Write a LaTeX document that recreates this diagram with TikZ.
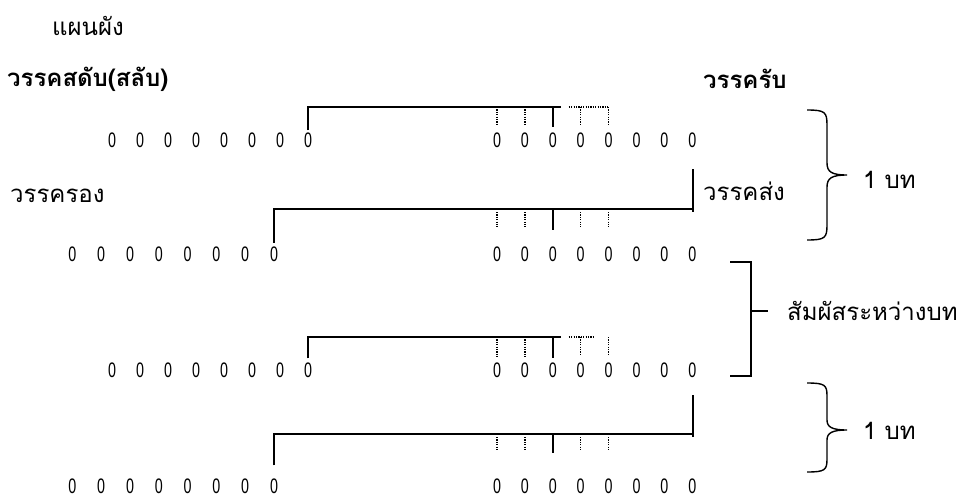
\documentclass[tikz,border=0pt]{standalone}
\usepackage{fontspec}
\newfontfamily\thai[Script=Thai]{Loma}
\newfontfamily\digitfont{Liberation Sans}
\usetikzlibrary{calc}
\newcommand\zz{\scalebox{0.68}[1]{0}}
\tikzset{
  zero/.style={inner sep=0pt, font=\digitfont\fontsize{21}{21}\selectfont},
  lbl/.style={inner sep=0pt, anchor=west, font=\thai\fontsize{24}{24}\selectfont},
  hdr/.style={inner sep=0pt, anchor=west, font=\thai\bfseries\fontsize{24}{24}\selectfont},
  link/.style={line width=1.4pt},
  dotlink/.style={line width=1.2pt, dash pattern=on 1.2pt off 1.2pt},
}
\begin{document}
\begin{tikzpicture}[x=1pt,y=1pt]
\useasboundingbox[fill=white] (0,0) rectangle (963,-501);
% texts
\node[lbl] (title) at (52,-26) {แผนผัง};
\node[hdr] (h1) at (7,-79) {วรรคสดับ(สลับ)};
\node[hdr] (h2) at (703,-79) {วรรครับ};
\node[lbl] (rong) at (10,-196) {วรรครอง};
\node[lbl] (song) at (703,-191) {วรรคส่ง};
\node[lbl] (bot1) at (863,-180) {1 บท};
\node[lbl] (samp) at (787,-311) {สัมผัสระหว่างบท};
\node[lbl] (bot2) at (863,-431) {1 บท};
% zeros
\foreach \i in {1,...,8} {
  \node[zero] (a\i) at ({308-28*(8-\i)},-140) {\zz};
  \node[zero] (b\i) at ({497+27.9*(\i-1)},-140) {\zz};
  \node[zero] (c\i) at ({274-28.8*(8-\i)},-254) {\zz};
  \node[zero] (d\i) at ({497+27.9*(\i-1)},-254) {\zz};
  \node[zero] (e\i) at ({308-28*(8-\i)},-370) {\zz};
  \node[zero] (f\i) at ({497+27.9*(\i-1)},-370) {\zz};
  \node[zero] (g\i) at ({274-28.8*(8-\i)},-486) {\zz};
  \node[zero] (h\i) at ({497+27.9*(\i-1)},-486) {\zz};
}
\coordinate (L1) at (0,-107);
\coordinate (L2) at (0,-209);
\coordinate (L3) at (0,-337);
\coordinate (L4) at (0,-434);
% row 1
\draw[link] ([yshift=2pt]a8.north) |- ($(b3.north |- L1)+(8,0)$);
\draw[link] (b3.north |- L1) -- ([yshift=5pt]b3.north);
\foreach \n in {b1,b2,b4,b5}
  \draw[dotlink] (\n.north |- L1) -- ([yshift=7pt]\n.north);
\draw[dotlink] ($(b4.north |- L1)+(-12,0)$) -- (b5.north |- L1);
% row 2
\coordinate (m2) at (693,-169);
\draw[link] ([yshift=3.5pt]c8.north) |- (m2 |- L2);
\draw[link] (m2) -- ([yshift=-3pt]m2 |- L2);
\draw[link] (d3.north |- L2) -- ([yshift=16pt]d3.north);
\foreach \n in {d1,d2,d4,d5}
  \draw[dotlink] ([yshift=-3pt]\n.north |- L2) -- ([yshift=19pt]\n.north);
% row 3
\draw[link] ([yshift=4pt]e8.north) |- ($(f3.north |- L3)+(8,0)$);
\draw[link] (f3.north |- L3) -- ([yshift=4pt]f3.north);
\foreach \n in {f1,f2}
  \draw[dotlink] (\n.north |- L3) -- ([yshift=5pt]\n.north);
\foreach \n in {f4,f5}
  \draw[dotlink] (\n.north |- L3) -- ([yshift=7pt]\n.north);
\draw[dotlink] ($(f4.north |- L3)+(-12,0)$) -- ($(f4.north |- L3)+(14,0)$);
% row 4
\coordinate (m4) at (693,-395);
\draw[link] ([yshift=13pt]g8.north) |- (m4 |- L4);
\draw[link] (m4) -- ([yshift=-3pt]m4 |- L4);
\draw[link] (h3.north |- L4) -- ([yshift=25pt]h3.north);
\foreach \n in {h1,h2,h4,h5}
  \draw[dotlink] ([yshift=-3pt]\n.north |- L4) -- ([yshift=27pt]\n.north);
% bracket between stanzas
\coordinate (kt) at (751,-262);
\coordinate (kb) at (751,-376);
\coordinate (km) at (751,-311);
\draw[link] (730,-262) -- (kt) -- (kb) -- (730,-376);
\draw[link] (km) -- ++(17,0);
% braces
\draw[link] (807,-110) .. controls (825,-110) and (827,-112) .. (827,-125) -- (827,-163)
  .. controls (827,-172) and (832,-175) .. (847,-175)
  .. controls (832,-175) and (827,-178) .. (827,-187) -- (827,-225)
  .. controls (827,-238) and (825,-240) .. (807,-240);
\draw[link] (807,-383) .. controls (825,-383) and (827,-385) .. (827,-396) -- (827,-420)
  .. controls (827,-427) and (832,-430) .. (847,-430)
  .. controls (832,-430) and (827,-433) .. (827,-440) -- (827,-459)
  .. controls (827,-470) and (825,-472) .. (807,-472);
\end{tikzpicture}
\end{document}
